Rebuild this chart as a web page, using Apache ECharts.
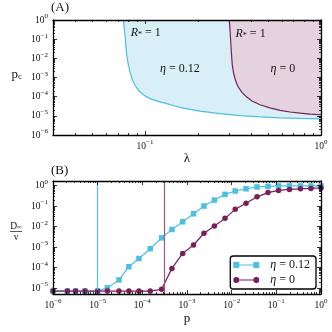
<!DOCTYPE html>
<html>
<head>
<meta charset="utf-8">
<script src="https://cdn.jsdelivr.net/npm/echarts@6/dist/echarts.min.js"></script>
<style>
  html, body { margin: 0; padding: 0; background: #fff; }
  #chart { width: 332px; height: 332px; }
</style>
</head>
<body>
<div id="chart"></div>
<script>
// (A) boundary R* = 1 : p_c against lambda
var lamCyan = [0.0753, 0.0762, 0.077, 0.0778, 0.0787, 0.0803, 0.0822, 0.0838, 0.0858, 0.0889, 0.0937, 0.1, 0.1067,
               0.1186, 0.1328, 0.1481, 0.165, 0.1837, 0.2053, 0.2668, 0.3465, 0.45, 0.5848, 0.76, 1.0];
var pcCyan = [1, 0.381, 0.164, 0.049, 0.0147, 4.9e-3, 1.95e-3, 1.03e-3, 5.8e-4, 3.27e-4, 1.75e-4, 1.1e-4, 7.9e-5,
              5.7e-5, 4.3e-5, 3.27e-5, 2.53e-5, 2.09e-5, 1.77e-5, 1.29e-5, 1.02e-5, 8.9e-6, 7.9e-6, 7.4e-6, 7.0e-6];
var lamPurple = [0.3013, 0.3041, 0.3069, 0.3097, 0.3133, 0.3183, 0.3246, 0.3311, 0.3389, 0.3557, 0.3783, 0.4055,
                 0.45, 0.5131, 0.5848, 0.6667, 0.76, 0.866, 1.0];
var pcPurple = [1, 0.299, 0.0729, 0.0186, 4.38e-3, 1.77e-3, 8.8e-4, 4.99e-4, 3.19e-4, 1.68e-4, 9.5e-5, 6.0e-5,
                3.8e-5, 2.6e-5, 1.92e-5, 1.58e-5, 1.39e-5, 1.24e-5, 1.14e-5];

// text inside panel A
var noteText = ['R*', 'R*', 'η = 0.12', 'η = 0'];
var noteLam = [0.101, 0.398, 0.158, 0.608];
var notePc = [0.21, 0.185, 3.0e-3, 3.0e-3];

// (B) D_inf / v against p
var pB = [1e-6, 2.1e-6, 3.2e-6, 5.2e-6, 1e-5, 1.65e-5, 3e-5, 5e-5, 8.4e-5, 1.5e-4, 2.7e-4, 4.6e-4, 8e-4, 1.4e-3, 2.4e-3,
          4.1e-3, 7.1e-3, 1.2e-2, 2.1e-2, 3.7e-2, 6.5e-2, 0.112, 0.197, 0.346, 0.596, 1.0];
var dCyan = [7.1e-6, 7.1e-6, 7.1e-6, 7.1e-6, 7.1e-6, 1.02e-5, 2.5e-5, 1.1e-4, 2.75e-4, 8.3e-4, 2.8e-3, 7.2e-3, 0.017,
             0.042, 0.1, 0.195, 0.37, 0.54, 0.69, 0.85, 0.91, 0.95, 0.95, 0.95, 0.95, 0.95];
var dPurple = [7.1e-6, 7.1e-6, 7.1e-6, 7.1e-6, 7.1e-6, 7.1e-6, 7.1e-6, 7.1e-6, 7.1e-6, 7.1e-6, 8.7e-6, 9.1e-5, 4.9e-4,
               1.26e-3, 4.7e-3, 0.0105, 0.025, 0.069, 0.135, 0.28, 0.45, 0.575, 0.645, 0.69, 0.72, 0.76];
var pcMarkCyan = 1e-5;
var pcMarkPurple = 3e-4;
var seriesNames = ['η = 0.12', 'η = 0'];

// decade labels (exponents of 10)
var aXExp = [-1, 0];
var aYExp = [-6, -5, -4, -3, -2, -1, 0];
var bXExp = [-6, -5, -4, -3, -2, -1, 0];
var bYExp = [-5, -4, -3, -2, -1, 0];

var F = 'Liberation Serif';
var INK = '#111';
var CYAN = '#4cbfe2';
var PURPLE = '#7a1d5b';

function lg(v) { return Math.log10(v); }
function pairs(xs, ys) {
  return xs.map(function (x, i) { return [lg(x), lg(ys[i])]; });
}
function powLabel(v) {
  var e = Math.round(v);
  return '{b|10}{e|' + (e < 0 ? '\u2212' + (-e) : e) + '}';
}
var powRich = {
  b: { fontFamily: F, fontSize: 9.5, color: INK },
  e: { fontFamily: F, fontSize: 7, color: INK, padding: [0, 0, 7, 0] }
};

// four sides, major + minor ticks each, ticks pointing inward
function axisSet(dim, gi, lo, hi, exps, nameOpt) {
  var minors = [];
  for (var n = Math.floor(lo); n < Math.ceil(hi); n++) {
    for (var k = 2; k < 10; k++) {
      var v = n + lg(k);
      if (v > lo && v < hi) minors.push(v);
    }
  }
  var sides = dim === 'x' ? ['bottom', 'top'] : ['left', 'right'];
  var out = [];
  sides.forEach(function (side, si) {
    [exps, minors].forEach(function (vals, mi) {
      var main = si === 0 && mi === 0;
      var ax = {
        gridIndex: gi, type: 'value', min: lo, max: hi, position: side, z: 5,
        axisLine: { show: mi === 0, onZero: false, lineStyle: { color: '#000', width: 1.3 } },
        splitLine: { show: false },
        axisTick: { show: true, inside: true, length: mi === 0 ? 4 : 2, customValues: vals,
                    lineStyle: { color: '#000', width: 0.8 } },
        axisLabel: main ? { show: true, customValues: exps, formatter: powLabel, rich: powRich,
                            margin: dim === 'x' ? 4 : 5 } : { show: false }
      };
      if (main && nameOpt) {
        for (var key in nameOpt) ax[key] = nameOpt[key];
      }
      out.push(ax);
    });
  });
  return out;
}

var myChart = echarts.init(document.getElementById('chart'));

var xAxes = axisSet('x', 0, lg(0.03), 0, aXExp, {
  name: 'λ', nameLocation: 'middle', nameGap: 16,
  nameTextStyle: { fontFamily: F, fontSize: 13, color: INK }
}).concat(axisSet('x', 1, -6, 0, bXExp, {
  name: 'p', nameLocation: 'middle', nameGap: 18,
  nameTextStyle: { fontFamily: F, fontSize: 13, color: INK }
}));

var yAxes = axisSet('y', 0, -6, 0, aYExp, {
  name: '{p|p}{s|c}', nameLocation: 'middle', nameGap: 31, nameRotate: 0,
  nameTextStyle: { padding: [0, 0, 6, 0],
    rich: { p: { fontFamily: F, fontSize: 13, color: INK }, s: { fontFamily: F, fontSize: 9, color: INK, padding: [4, 0, 0, 0] } } }
}).concat(axisSet('y', 1, -5.29, 0.22, bYExp, {
  name: '{n|D}{s|∞}\n{bar|}\n{n|v}', nameLocation: 'middle', nameGap: 37, nameRotate: 0,
  nameTextStyle: { padding: [0, 0, 12, 0], align: 'center',
    rich: {
      n: { fontFamily: F, fontSize: 9.5, color: INK, lineHeight: 8, align: 'center' },
      s: { fontFamily: F, fontSize: 6.5, color: INK, lineHeight: 8, padding: [3, 0, 0, 0] },
      bar: { width: 12, height: 0.7, lineHeight: 3, backgroundColor: INK, align: 'center' }
    } }
}));

var iconSquare = 'path://M0,0H6V6H0Z M6,2.5H20V3.5H6Z M20,0H26V6H20Z';
var iconCircle = 'path://M0,3A3,3 0 1,0 6,3A3,3 0 1,0 0,3Z M6,2.5H20V3.5H6Z M20,3A3,3 0 1,0 26,3A3,3 0 1,0 20,3Z';

myChart.setOption({
  animation: false,
  title: [
    { text: '(A)', left: 51, top: 1, padding: 0, textStyle: { fontFamily: F, fontSize: 13, fontWeight: 'normal', color: INK } },
    { text: '(B)', left: 51, top: 164, padding: 0, textStyle: { fontFamily: F, fontSize: 13, fontWeight: 'normal', color: INK } }
  ],
  grid: [
    { left: 53, top: 20, width: 268, height: 115 },
    { left: 53, top: 181, width: 268, height: 113 }
  ],
  xAxis: xAxes,
  yAxis: yAxes,
  legend: {
    orient: 'vertical', right: 16, bottom: 43,
    data: [{ name: seriesNames[0], icon: iconSquare }, { name: seriesNames[1], icon: iconCircle }],
    itemWidth: 26, itemHeight: 6, itemGap: 3,
    borderColor: '#000', borderWidth: 1.3, borderRadius: 3, padding: [3, 6, 3, 3],
    backgroundColor: '#fff',
    formatter: function (n) { return '{i|η}' + n.slice(1); },
    textStyle: { fontFamily: F, fontSize: 12, color: INK, padding: [0, 0, 0, 6],
      rich: { i: { fontFamily: F, fontStyle: 'italic', fontSize: 12, color: INK } } }
  },
  series: [
    {
      type: 'line', name: 'A1', xAxisIndex: 0, yAxisIndex: 0,
      data: pairs(lamCyan, pcCyan), showSymbol: false,
      lineStyle: { color: CYAN, width: 1.2 },
      areaStyle: { color: '#d9eff7', opacity: 1, origin: 'end' }
    },
    {
      type: 'line', name: 'A2', xAxisIndex: 0, yAxisIndex: 0,
      data: pairs(lamPurple, pcPurple), showSymbol: false,
      lineStyle: { color: PURPLE, width: 1.2 },
      areaStyle: { color: '#e4d3df', opacity: 1, origin: 'end' }
    },
    {
      type: 'line', name: seriesNames[0], xAxisIndex: 4, yAxisIndex: 4,
      data: pairs(pB, dCyan), symbol: 'rect', symbolSize: 5.5,
      itemStyle: { color: CYAN }, lineStyle: { color: CYAN, width: 1.2 },
      markLine: { silent: true, symbol: 'none', label: { show: false },
        lineStyle: { color: CYAN, width: 1.2, type: 'solid' },
        data: [{ xAxis: lg(pcMarkCyan) }] }
    },
    {
      type: 'line', name: seriesNames[1], xAxisIndex: 4, yAxisIndex: 4,
      data: pairs(pB, dPurple), symbol: 'circle', symbolSize: 5.5,
      itemStyle: { color: PURPLE }, lineStyle: { color: PURPLE, width: 1.2 },
      markLine: { silent: true, symbol: 'none', label: { show: false },
        lineStyle: { color: '#a2557f', width: 1.2, type: 'solid' },
        data: [{ xAxis: lg(pcMarkPurple) }] }
    }
  ]
});

// region annotations, placed at data coordinates of panel A
var noteRich = {
  i: { fontFamily: F, fontStyle: 'italic', fontSize: 12, fill: INK },
  s: { fontFamily: F, fontSize: 8, fill: INK, padding: [4, 0, 0, 0] },
  t: { fontFamily: F, fontSize: 12, fill: INK }
};
var noteEls = noteLam.map(function (l, i) {
  var pt = myChart.convertToPixel({ gridIndex: 0 }, [lg(l), lg(notePc[i])]);
  var t = noteText[i];
  var txt = t === 'R*' ? '{i|R}{s|*}{t| = 1}' : '{i|η}{t|' + t.slice(1) + '}';
  return {
    type: 'text', x: pt[0], y: pt[1], z: 10, silent: true,
    style: { text: txt, rich: noteRich, align: 'center', verticalAlign: 'middle', fill: INK }
  };
});
myChart.setOption({ graphic: noteEls });
</script>
</body>
</html>
